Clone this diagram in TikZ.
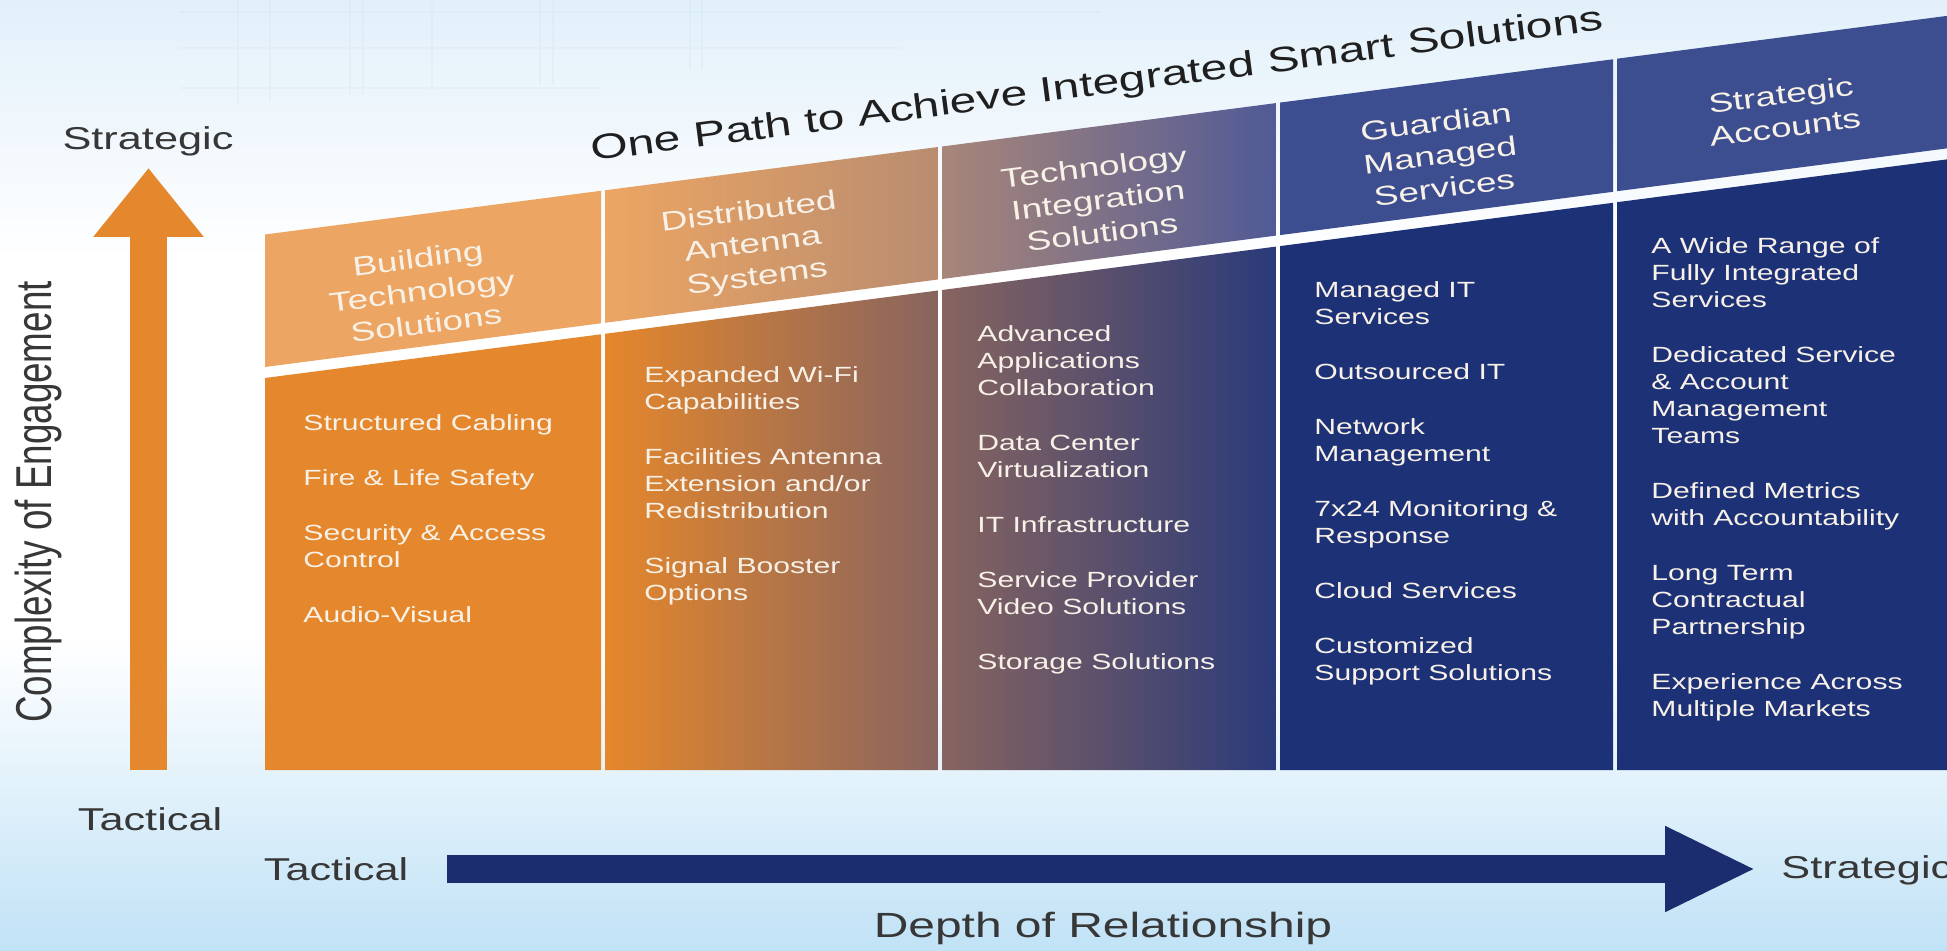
\documentclass[tikz,border=0pt]{standalone}
\usepackage{fontspec}
\setmainfont{Liberation Sans}[FakeStretch=1.37]
\newfontfamily\sidefont{Liberation Sans}[FakeStretch=0.73]
\usetikzlibrary{arrows.meta}

\definecolor{orangeband}{RGB}{236,165,99}
\definecolor{orangebody}{RGB}{229,135,44}
\definecolor{orangemid}{RGB}{208,126,60}
\definecolor{brownband}{RGB}{185,140,112}
\definecolor{brownbody}{RGB}{135,100,95}
\definecolor{mauveband}{RGB}{168,134,121}
\definecolor{mauvemid}{RGB}{88,76,108}
\definecolor{blueband}{RGB}{80,90,150}
\definecolor{bluebody}{RGB}{42,58,122}
\definecolor{navyband}{RGB}{60,78,143}
\definecolor{navybody}{RGB}{29,49,119}
\definecolor{arrownavy}{RGB}{27,45,110}
\definecolor{labelgray}{RGB}{55,55,55}
\definecolor{celltext}{RGB}{248,241,231}
\definecolor{skytop}{RGB}{226,240,250}
\definecolor{skyline}{RGB}{208,228,244}
\definecolor{skybottom}{RGB}{193,226,246}

\begin{document}
\begin{tikzpicture}[x=0.5pt, y=-0.5pt,
    head/.style={text=celltext, align=center, rotate=7.3, inner sep=0pt,
      font=\fontsize{13.5}{16.5}\selectfont},
    items/.style={text=celltext, align=left, anchor=north west, inner sep=0pt,
      font=\fontsize{11}{13.5}\selectfont},
    axislabel/.style={text=labelgray, inner sep=0pt,
      font=\fontsize{15.8}{18}\selectfont}]
  \useasboundingbox (0,0) rectangle (1947,951);
  \clip (0,0) rectangle (1947,951);
  % background
  \fill[white] (0,0) rectangle (1947,951);
  \shade[top color=skytop, bottom color=white] (0,0) rectangle (1947,260);
  \shade[top color=white, bottom color=skybottom] (0,640) rectangle (1947,951);
  % faint building behind the title
  \draw[skyline, line width=1pt, opacity=0.3]
    (238,0) -- (238,105) (270,0) -- (270,100) (350,0) -- (350,95)
    (363,0) -- (363,95) (432,0) -- (432,90) (540,0) -- (540,85)
    (553,0) -- (553,85) (690,0) -- (690,70) (702,0) -- (702,70)
    (180,12) -- (1100,12) (180,48) -- (900,48) (180,88) -- (600,88);

  % column bands and bodies
  \fill[orangeband] (265,234.5) -- (601,190.8) -- (601,323.3) -- (265,367) -- cycle;
  \fill[orangebody] (265,378) -- (601,334.3) -- (601,770) -- (265,770) -- cycle;
  \shade[left color=orangeband, right color=brownband]
    (605,190.3) -- (938,147.0) -- (938,279.5) -- (605,322.8) -- cycle;
  \shade[left color=orangebody, middle color=orangemid, right color=brownbody]
    (605,333.8) -- (938,290.5) -- (938,770) -- (605,770) -- cycle;
  \shade[left color=mauveband, right color=blueband]
    (942,146.5) -- (1276,103.1) -- (1276,235.6) -- (942,279.0) -- cycle;
  \shade[left color=brownbody, middle color=mauvemid, right color=bluebody]
    (942,290.0) -- (1276,246.6) -- (1276,770) -- (942,770) -- cycle;
  \fill[navyband] (1280,102.6) -- (1613,59.3) -- (1613,191.8) -- (1280,235.1) -- cycle;
  \fill[navybody] (1280,246.1) -- (1613,202.8) -- (1613,770) -- (1280,770) -- cycle;
  \fill[navyband] (1617,58.7) -- (1960,14.2) -- (1960,146.7) -- (1617,191.2) -- cycle;
  \fill[navybody] (1617,202.2) -- (1960,157.7) -- (1960,770) -- (1617,770) -- cycle;

  % title
  \node[text=black!88, inner sep=0pt, anchor=base west, rotate=7.4,
    font=\fontsize{17.5}{20}\selectfont] (path) at (592,161)
    {One Path to Achieve Integrated Smart Solutions};

  % column heads
  \node[head] (bts) at (422,291) {Building\\Technology\\Solutions};
  \node[head] (das) at (753,246) {Distributed\\Antenna\\Systems};
  \node[head] (tis) at (1098,200) {Technology\\Integration\\Solutions};
  \node[head] (gms) at (1440,155) {Guardian\\Managed\\Services};
  \node[head] (sa) at (1783,111) {Strategic\\Accounts};

  % column items
  \node[items] (btslist) at (303,414) {Structured Cabling\\[14pt]
    Fire \& Life Safety\\[14pt] Security \& Access\\Control\\[14pt]
    Audio-Visual};
  \node[items] (daslist) at (644,366) {Expanded Wi-Fi\\Capabilities\\[14pt]
    Facilities Antenna\\Extension and/or\\Redistribution\\[14pt]
    Signal Booster\\Options};
  \node[items] (tislist) at (977,325) {Advanced\\Applications\\Collaboration\\[14pt]
    Data Center\\Virtualization\\[14pt] IT Infrastructure\\[14pt]
    Service Provider\\Video Solutions\\[14pt] Storage Solutions};
  \node[items] (gmslist) at (1314,281) {Managed IT\\Services\\[14pt]
    Outsourced IT\\[14pt] Network\\Management\\[14pt]
    7x24 Monitoring \&\\Response\\[14pt] Cloud Services\\[14pt]
    Customized\\Support Solutions};
  \node[items] (salist) at (1651,237) {A Wide Range of\\Fully Integrated\\Services\\[14pt]
    Dedicated Service\\\& Account\\Management\\Teams\\[14pt]
    Defined Metrics\\with Accountability\\[14pt]
    Long Term\\Contractual\\Partnership\\[14pt]
    Experience Across\\Multiple Markets};

  % complexity axis
  \coordinate (vbot) at (148.5,770);
  \coordinate (vtop) at (148.5,168);
  \draw[orangebody, line width=18.5pt, -{Triangle[width=53pt,length=34.5pt]}]
    (vbot) -- (vtop);
  \node[axislabel, anchor=base] (vstrat) at (148,150) {Strategic};
  \node[axislabel, anchor=base] (vtact) at (150,830) {Tactical};
  \node[text=labelgray, rotate=90, font=\fontsize{25.2}{28}\sidefont]
    (complexity) at (38,502) {Complexity of Engagement};

  % depth axis
  \coordinate (hleft) at (447,869);
  \coordinate (hright) at (1756,869);
  \draw[arrownavy, line width=14pt, -{Triangle[width=39.5pt,length=45.5pt]}]
    (hleft) -- (hright);
  \node[axislabel, anchor=base] (htact) at (336,880) {Tactical};
  \node[axislabel, anchor=base west] (hstrat) at (1781,878) {Strategic};
  \node[text=labelgray, inner sep=0pt, anchor=base,
    font=\fontsize{17.5}{20}\selectfont] (depth) at (1103,937) {Depth of Relationship};
\end{tikzpicture}
\end{document}
